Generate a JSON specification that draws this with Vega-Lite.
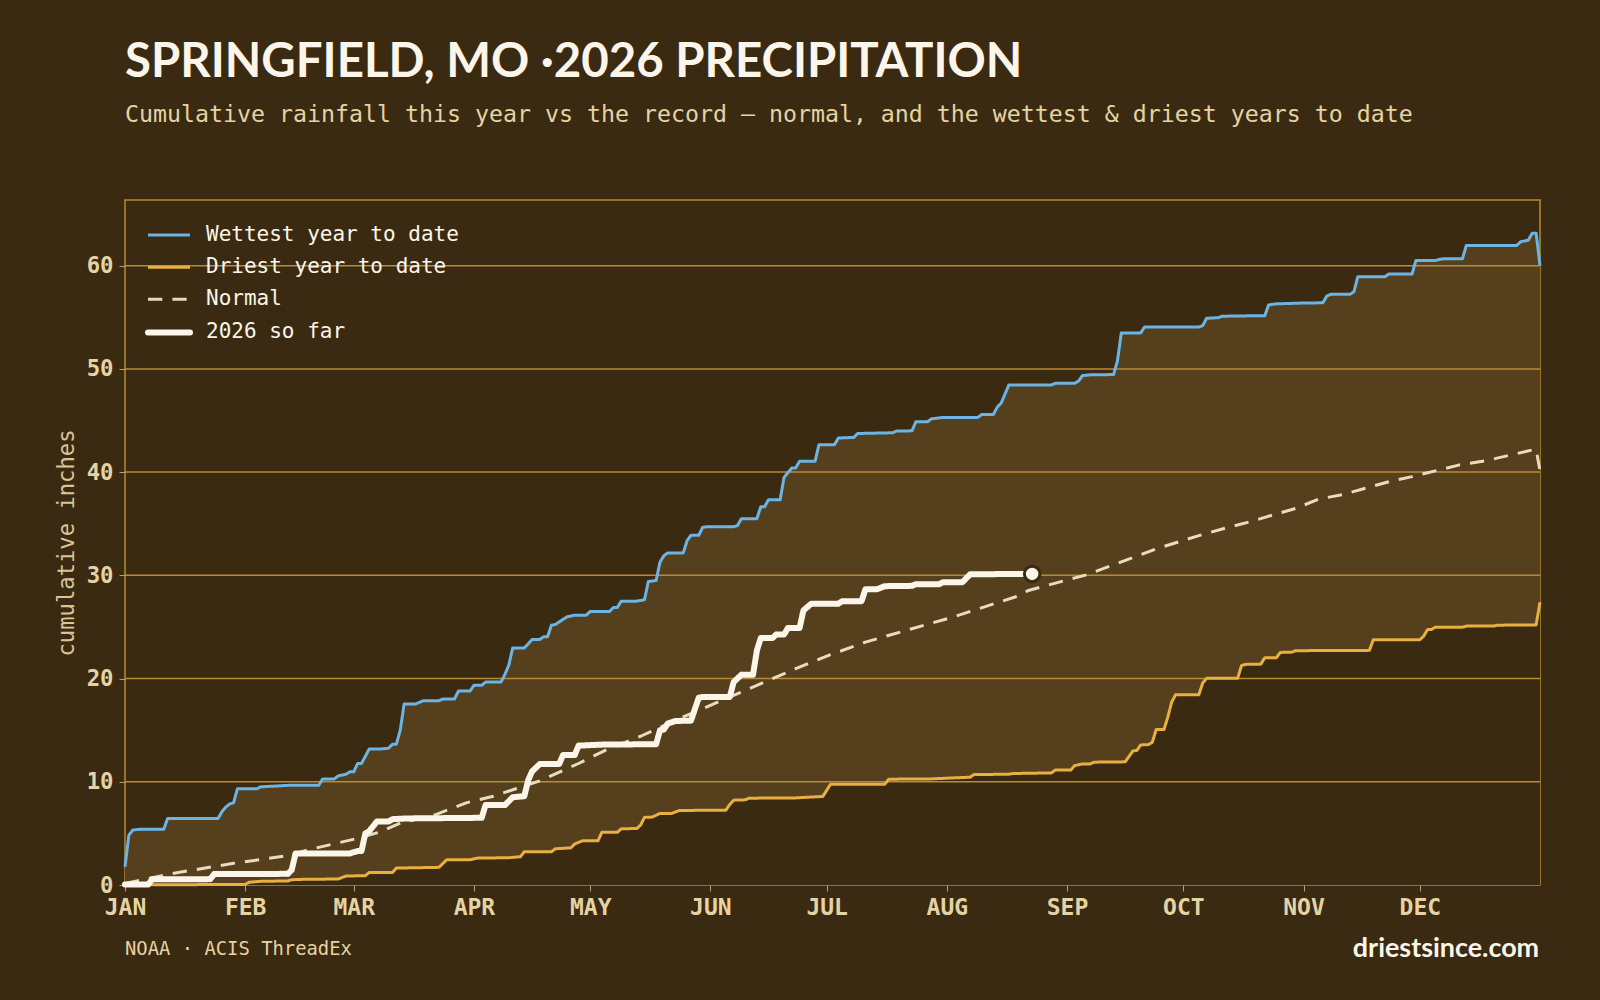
{"$schema":"https://vega.github.io/schema/vega-lite/v6.json","width":1415,"height":685,"autosize":{"type":"none"},"padding":{"left":125,"top":200,"right":60,"bottom":115},"background":"#3a2a12",
"title":{"text":"SPRINGFIELD, MO ·2026 PRECIPITATION","subtitle":"Cumulative rainfall this year vs the record — normal, and the wettest & driest years to date","anchor":"start","frame":"group","font":"Lato","fontWeight":"bold","fontSize":47.4,"color":"#fbf6e9","subtitleFont":"DejaVu Sans Mono","subtitleFontSize":23.25,"subtitleColor":"#e6d3a3","subtitlePadding":16,"offset":73},
"config":{"view":{"stroke":"#b88c36","strokeWidth":1.5},"axis":{"grid":false,"domain":false,"tickColor":"#b5a06f","tickSize":6,"labelFont":"DejaVu Sans Mono","labelFontWeight":"bold","labelColor":"#e6d3a3","titleFont":"DejaVu Sans Mono","titleFontWeight":"normal","titleColor":"#d9c495"},
"legend":{"orient":"none","legendX":33.5,"legendY":24.5,"padding":0,"symbolType":"stroke","symbolSize":1764,"symbolStrokeWidth":3,"rowPadding":10.15,"labelFont":"DejaVu Sans Mono","labelFontSize":21,"labelColor":"#fbf6e9","labelOffset":26.5,"labelLimit":400,"symbolOpacity":1}},
"datasets":{
"wet":[{"date":"2026-01-01","inches":1.77},{"date":"2026-01-02","inches":4.83},{"date":"2026-01-03","inches":5.32},{"date":"2026-01-05","inches":5.41},{"date":"2026-01-11","inches":5.41},{"date":"2026-01-12","inches":6.45},{"date":"2026-01-25","inches":6.45},{"date":"2026-01-26","inches":7.1},{"date":"2026-01-27","inches":7.55},{"date":"2026-01-28","inches":7.85},{"date":"2026-01-29","inches":7.96},{"date":"2026-01-30","inches":9.32},{"date":"2026-02-04","inches":9.32},{"date":"2026-02-05","inches":9.51},{"date":"2026-02-07","inches":9.55},{"date":"2026-02-13","inches":9.67},{"date":"2026-02-20","inches":9.67},{"date":"2026-02-21","inches":10.28},{"date":"2026-02-24","inches":10.28},{"date":"2026-02-25","inches":10.57},{"date":"2026-02-27","inches":10.73},{"date":"2026-02-28","inches":10.96},{"date":"2026-03-01","inches":10.96},{"date":"2026-03-02","inches":11.77},{"date":"2026-03-03","inches":11.77},{"date":"2026-03-05","inches":13.18},{"date":"2026-03-08","inches":13.18},{"date":"2026-03-10","inches":13.25},{"date":"2026-03-11","inches":13.64},{"date":"2026-03-12","inches":13.64},{"date":"2026-03-13","inches":14.99},{"date":"2026-03-14","inches":17.54},{"date":"2026-03-17","inches":17.54},{"date":"2026-03-19","inches":17.86},{"date":"2026-03-23","inches":17.86},{"date":"2026-03-24","inches":18.02},{"date":"2026-03-27","inches":18.02},{"date":"2026-03-28","inches":18.79},{"date":"2026-03-31","inches":18.79},{"date":"2026-04-01","inches":19.34},{"date":"2026-04-03","inches":19.34},{"date":"2026-04-04","inches":19.66},{"date":"2026-04-08","inches":19.66},{"date":"2026-04-09","inches":20.4},{"date":"2026-04-10","inches":21.3},{"date":"2026-04-11","inches":22.95},{"date":"2026-04-14","inches":22.95},{"date":"2026-04-16","inches":23.79},{"date":"2026-04-18","inches":23.79},{"date":"2026-04-19","inches":24.05},{"date":"2026-04-20","inches":24.05},{"date":"2026-04-21","inches":25.17},{"date":"2026-04-22","inches":25.24},{"date":"2026-04-25","inches":25.98},{"date":"2026-04-27","inches":26.14},{"date":"2026-04-30","inches":26.14},{"date":"2026-05-01","inches":26.5},{"date":"2026-05-06","inches":26.5},{"date":"2026-05-07","inches":26.89},{"date":"2026-05-08","inches":26.89},{"date":"2026-05-09","inches":27.5},{"date":"2026-05-13","inches":27.5},{"date":"2026-05-15","inches":27.63},{"date":"2026-05-16","inches":29.4},{"date":"2026-05-18","inches":29.5},{"date":"2026-05-19","inches":31.27},{"date":"2026-05-20","inches":31.9},{"date":"2026-05-21","inches":32.17},{"date":"2026-05-25","inches":32.17},{"date":"2026-05-26","inches":33.37},{"date":"2026-05-27","inches":33.88},{"date":"2026-05-29","inches":33.88},{"date":"2026-05-30","inches":34.65},{"date":"2026-05-31","inches":34.7},{"date":"2026-06-07","inches":34.7},{"date":"2026-06-08","inches":34.82},{"date":"2026-06-09","inches":35.49},{"date":"2026-06-13","inches":35.49},{"date":"2026-06-14","inches":36.65},{"date":"2026-06-15","inches":36.65},{"date":"2026-06-16","inches":37.33},{"date":"2026-06-19","inches":37.33},{"date":"2026-06-20","inches":39.49},{"date":"2026-06-22","inches":40.4},{"date":"2026-06-23","inches":40.4},{"date":"2026-06-24","inches":41.04},{"date":"2026-06-28","inches":41.04},{"date":"2026-06-29","inches":42.65},{"date":"2026-07-03","inches":42.65},{"date":"2026-07-04","inches":43.3},{"date":"2026-07-08","inches":43.36},{"date":"2026-07-09","inches":43.74},{"date":"2026-07-18","inches":43.81},{"date":"2026-07-19","inches":43.97},{"date":"2026-07-23","inches":44.0},{"date":"2026-07-24","inches":44.87},{"date":"2026-07-27","inches":44.87},{"date":"2026-07-28","inches":45.16},{"date":"2026-07-31","inches":45.3},{"date":"2026-08-09","inches":45.3},{"date":"2026-08-10","inches":45.58},{"date":"2026-08-13","inches":45.58},{"date":"2026-08-14","inches":46.3},{"date":"2026-08-15","inches":46.68},{"date":"2026-08-17","inches":48.45},{"date":"2026-08-28","inches":48.45},{"date":"2026-08-29","inches":48.6},{"date":"2026-09-03","inches":48.6},{"date":"2026-09-04","inches":48.84},{"date":"2026-09-05","inches":49.35},{"date":"2026-09-07","inches":49.42},{"date":"2026-09-13","inches":49.45},{"date":"2026-09-14","inches":50.77},{"date":"2026-09-15","inches":53.48},{"date":"2026-09-20","inches":53.48},{"date":"2026-09-21","inches":54.06},{"date":"2026-10-05","inches":54.06},{"date":"2026-10-06","inches":54.19},{"date":"2026-10-07","inches":54.9},{"date":"2026-10-10","inches":54.96},{"date":"2026-10-11","inches":55.1},{"date":"2026-10-16","inches":55.13},{"date":"2026-10-22","inches":55.15},{"date":"2026-10-23","inches":56.2},{"date":"2026-10-25","inches":56.3},{"date":"2026-11-01","inches":56.38},{"date":"2026-11-06","inches":56.4},{"date":"2026-11-07","inches":57.06},{"date":"2026-11-08","inches":57.22},{"date":"2026-11-13","inches":57.22},{"date":"2026-11-14","inches":57.47},{"date":"2026-11-15","inches":58.93},{"date":"2026-11-22","inches":58.93},{"date":"2026-11-23","inches":59.19},{"date":"2026-11-29","inches":59.19},{"date":"2026-11-30","inches":60.51},{"date":"2026-12-05","inches":60.51},{"date":"2026-12-07","inches":60.67},{"date":"2026-12-12","inches":60.67},{"date":"2026-12-13","inches":61.96},{"date":"2026-12-26","inches":61.96},{"date":"2026-12-27","inches":62.31},{"date":"2026-12-29","inches":62.47},{"date":"2026-12-30","inches":63.15},{"date":"2026-12-31","inches":63.15},{"date":"2027-01-01","inches":60.0}],
"dry":[{"date":"2026-01-01","inches":0},{"date":"2026-02-01","inches":0.06},{"date":"2026-02-02","inches":0.26},{"date":"2026-02-05","inches":0.36},{"date":"2026-02-12","inches":0.39},{"date":"2026-02-13","inches":0.51},{"date":"2026-02-16","inches":0.55},{"date":"2026-02-25","inches":0.58},{"date":"2026-02-27","inches":0.87},{"date":"2026-03-04","inches":0.9},{"date":"2026-03-05","inches":1.22},{"date":"2026-03-11","inches":1.22},{"date":"2026-03-12","inches":1.64},{"date":"2026-03-23","inches":1.71},{"date":"2026-03-25","inches":2.45},{"date":"2026-03-31","inches":2.45},{"date":"2026-04-02","inches":2.61},{"date":"2026-04-10","inches":2.64},{"date":"2026-04-13","inches":2.74},{"date":"2026-04-14","inches":3.22},{"date":"2026-04-21","inches":3.22},{"date":"2026-04-22","inches":3.51},{"date":"2026-04-26","inches":3.6},{"date":"2026-04-27","inches":3.97},{"date":"2026-04-29","inches":4.28},{"date":"2026-05-03","inches":4.28},{"date":"2026-05-04","inches":5.1},{"date":"2026-05-08","inches":5.1},{"date":"2026-05-09","inches":5.45},{"date":"2026-05-13","inches":5.47},{"date":"2026-05-14","inches":5.8},{"date":"2026-05-15","inches":6.55},{"date":"2026-05-17","inches":6.58},{"date":"2026-05-19","inches":6.93},{"date":"2026-05-22","inches":6.93},{"date":"2026-05-24","inches":7.22},{"date":"2026-06-05","inches":7.25},{"date":"2026-06-06","inches":7.8},{"date":"2026-06-07","inches":8.22},{"date":"2026-06-10","inches":8.25},{"date":"2026-06-11","inches":8.41},{"date":"2026-06-23","inches":8.44},{"date":"2026-06-30","inches":8.58},{"date":"2026-07-02","inches":9.77},{"date":"2026-07-16","inches":9.77},{"date":"2026-07-17","inches":10.25},{"date":"2026-07-28","inches":10.28},{"date":"2026-08-03","inches":10.38},{"date":"2026-08-07","inches":10.44},{"date":"2026-08-08","inches":10.7},{"date":"2026-08-17","inches":10.73},{"date":"2026-08-18","inches":10.8},{"date":"2026-08-28","inches":10.86},{"date":"2026-08-29","inches":11.15},{"date":"2026-09-02","inches":11.15},{"date":"2026-09-03","inches":11.57},{"date":"2026-09-05","inches":11.73},{"date":"2026-09-07","inches":11.73},{"date":"2026-09-08","inches":11.9},{"date":"2026-09-16","inches":11.93},{"date":"2026-09-18","inches":12.99},{"date":"2026-09-19","inches":13.03},{"date":"2026-09-20","inches":13.57},{"date":"2026-09-22","inches":13.6},{"date":"2026-09-23","inches":13.83},{"date":"2026-09-24","inches":15.06},{"date":"2026-09-26","inches":15.06},{"date":"2026-09-27","inches":16.28},{"date":"2026-09-28","inches":17.73},{"date":"2026-09-29","inches":18.44},{"date":"2026-10-05","inches":18.44},{"date":"2026-10-06","inches":19.57},{"date":"2026-10-07","inches":20.02},{"date":"2026-10-15","inches":20.02},{"date":"2026-10-16","inches":21.25},{"date":"2026-10-17","inches":21.37},{"date":"2026-10-21","inches":21.4},{"date":"2026-10-22","inches":22.02},{"date":"2026-10-25","inches":22.02},{"date":"2026-10-26","inches":22.53},{"date":"2026-10-29","inches":22.56},{"date":"2026-10-30","inches":22.7},{"date":"2026-11-18","inches":22.73},{"date":"2026-11-19","inches":23.76},{"date":"2026-12-01","inches":23.76},{"date":"2026-12-02","inches":24.11},{"date":"2026-12-03","inches":24.76},{"date":"2026-12-04","inches":24.76},{"date":"2026-12-05","inches":24.98},{"date":"2026-12-12","inches":24.98},{"date":"2026-12-13","inches":25.08},{"date":"2026-12-20","inches":25.08},{"date":"2026-12-21","inches":25.17},{"date":"2026-12-31","inches":25.2},{"date":"2027-01-01","inches":27.4}],
"normal":[{"date":"2026-01-01","inches":0.16},{"date":"2026-01-13","inches":1.1},{"date":"2026-01-29","inches":2.1},{"date":"2026-02-12","inches":2.84},{"date":"2026-02-17","inches":3.38},{"date":"2026-03-02","inches":4.52},{"date":"2026-03-08","inches":5.16},{"date":"2026-03-13","inches":6.0},{"date":"2026-03-22","inches":6.8},{"date":"2026-03-30","inches":7.96},{"date":"2026-04-06","inches":8.6},{"date":"2026-04-12","inches":9.35},{"date":"2026-04-18","inches":10.09},{"date":"2026-04-28","inches":11.77},{"date":"2026-05-05","inches":13.06},{"date":"2026-05-14","inches":14.41},{"date":"2026-05-25","inches":16.28},{"date":"2026-06-07","inches":18.38},{"date":"2026-06-15","inches":19.66},{"date":"2026-06-23","inches":20.96},{"date":"2026-07-02","inches":22.31},{"date":"2026-07-11","inches":23.53},{"date":"2026-07-23","inches":24.83},{"date":"2026-08-02","inches":25.89},{"date":"2026-08-19","inches":27.95},{"date":"2026-08-22","inches":28.53},{"date":"2026-09-06","inches":30.05},{"date":"2026-09-24","inches":32.56},{"date":"2026-10-05","inches":33.85},{"date":"2026-10-12","inches":34.59},{"date":"2026-10-18","inches":35.17},{"date":"2026-10-30","inches":36.49},{"date":"2026-11-05","inches":37.39},{"date":"2026-11-11","inches":37.81},{"date":"2026-11-23","inches":39.07},{"date":"2026-11-29","inches":39.56},{"date":"2026-12-11","inches":40.68},{"date":"2026-12-18","inches":41.1},{"date":"2026-12-30","inches":42.14},{"date":"2026-12-31","inches":42.2},{"date":"2027-01-01","inches":40.13}],
"y2026":[{"date":"2026-01-01","inches":0.05},{"date":"2026-01-07","inches":0.05},{"date":"2026-01-08","inches":0.55},{"date":"2026-01-23","inches":0.57},{"date":"2026-01-24","inches":1.06},{"date":"2026-02-12","inches":1.08},{"date":"2026-02-13","inches":1.45},{"date":"2026-02-14","inches":3.06},{"date":"2026-02-28","inches":3.06},{"date":"2026-03-02","inches":3.29},{"date":"2026-03-03","inches":3.29},{"date":"2026-03-04","inches":5.0},{"date":"2026-03-05","inches":5.22},{"date":"2026-03-07","inches":6.16},{"date":"2026-03-10","inches":6.16},{"date":"2026-03-11","inches":6.38},{"date":"2026-03-15","inches":6.45},{"date":"2026-04-03","inches":6.51},{"date":"2026-04-04","inches":7.74},{"date":"2026-04-09","inches":7.74},{"date":"2026-04-11","inches":8.5},{"date":"2026-04-14","inches":8.6},{"date":"2026-04-15","inches":10.15},{"date":"2026-04-16","inches":11.0},{"date":"2026-04-18","inches":11.72},{"date":"2026-04-23","inches":11.72},{"date":"2026-04-24","inches":12.6},{"date":"2026-04-27","inches":12.6},{"date":"2026-04-28","inches":13.5},{"date":"2026-05-04","inches":13.6},{"date":"2026-05-18","inches":13.64},{"date":"2026-05-19","inches":14.99},{"date":"2026-05-20","inches":15.06},{"date":"2026-05-21","inches":15.64},{"date":"2026-05-23","inches":15.89},{"date":"2026-05-27","inches":15.92},{"date":"2026-05-29","inches":18.15},{"date":"2026-05-30","inches":18.21},{"date":"2026-06-06","inches":18.21},{"date":"2026-06-07","inches":19.66},{"date":"2026-06-09","inches":20.37},{"date":"2026-06-12","inches":20.37},{"date":"2026-06-13","inches":22.73},{"date":"2026-06-14","inches":23.92},{"date":"2026-06-17","inches":23.92},{"date":"2026-06-18","inches":24.27},{"date":"2026-06-20","inches":24.27},{"date":"2026-06-21","inches":24.89},{"date":"2026-06-24","inches":24.89},{"date":"2026-06-25","inches":26.6},{"date":"2026-06-27","inches":27.24},{"date":"2026-07-04","inches":27.24},{"date":"2026-07-05","inches":27.5},{"date":"2026-07-10","inches":27.5},{"date":"2026-07-11","inches":28.66},{"date":"2026-07-14","inches":28.66},{"date":"2026-07-16","inches":28.95},{"date":"2026-07-23","inches":28.98},{"date":"2026-07-24","inches":29.14},{"date":"2026-07-30","inches":29.14},{"date":"2026-07-31","inches":29.33},{"date":"2026-08-05","inches":29.33},{"date":"2026-08-07","inches":30.1},{"date":"2026-08-23","inches":30.14}]
},
"layer":[
{"data":{"name":"wet"},"mark":{"type":"area","fill":"#553f1c"},"encoding":{"x":{"field":"date","type":"temporal","title":null,"scale":{"type":"utc","nice":false,"domain":[{"year":2026,"month":1,"date":1,"utc":true},{"year":2027,"month":1,"date":1,"utc":true}]},"axis":{"values":[{"year":2026,"month":1,"date":1,"utc":true},{"year":2026,"month":2,"date":1,"utc":true},{"year":2026,"month":3,"date":1,"utc":true},{"year":2026,"month":4,"date":1,"utc":true},{"year":2026,"month":5,"date":1,"utc":true},{"year":2026,"month":6,"date":1,"utc":true},{"year":2026,"month":7,"date":1,"utc":true},{"year":2026,"month":8,"date":1,"utc":true},{"year":2026,"month":9,"date":1,"utc":true},{"year":2026,"month":10,"date":1,"utc":true},{"year":2026,"month":11,"date":1,"utc":true},{"year":2026,"month":12,"date":1,"utc":true}],"labelExpr":"upper(utcFormat(datum.value,'%b'))","labelFontSize":23,"labelPadding":5,"labelFlush":false,"labelOverlap":false}},"y":{"field":"inches","type":"quantitative","stack":null,"title":"cumulative inches","scale":{"domain":[0,66.36],"nice":false},"axis":{"values":[0,10,20,30,40,50,60],"labelFontSize":22.3,"labelPadding":6,"titleFontSize":22.2,"titlePadding":8}}}},
{"data":{"name":"dry"},"mark":{"type":"area","fill":"#3a2a12"},"encoding":{"x":{"field":"date","type":"temporal"},"y":{"field":"inches","type":"quantitative","stack":null}}},
{"data":{"values":[{"level":10},{"level":20},{"level":30},{"level":40},{"level":50},{"level":60}]},"mark":{"type":"rule","stroke":"#b88c36","strokeWidth":1.5},"encoding":{"y":{"field":"level","type":"quantitative"}}},
{"data":{"name":"wet"},"mark":{"type":"line","strokeJoin":"round","strokeWidth":3},"encoding":{"x":{"field":"date","type":"temporal"},"y":{"field":"inches","type":"quantitative"},
"stroke":{"datum":"Wettest year to date","type":"nominal","title":null,"scale":{"domain":["Wettest year to date","Driest year to date","Normal","2026 so far"],"range":["#6cb4e4","#e8b040","#e8dcc0","#fbf6e9"]},"legend":{"encoding":{"symbols":{"strokeWidth":{"value":{"signal":"datum.value === '2026 so far' ? 6 : 3"}},"strokeCap":{"value":{"signal":"datum.value === '2026 so far' ? 'round' : 'butt'"}}}}}},
"strokeDash":{"datum":"Wettest year to date","type":"nominal","title":null,"scale":{"domain":["Wettest year to date","Driest year to date","Normal","2026 so far"],"range":[[1,0],[1,0],[14.3,10.08],[1,0]]}}}},
{"data":{"name":"dry"},"mark":{"type":"line","strokeJoin":"round","strokeWidth":3},"encoding":{"x":{"field":"date","type":"temporal"},"y":{"field":"inches","type":"quantitative"},"stroke":{"datum":"Driest year to date","type":"nominal","title":null},"strokeDash":{"datum":"Driest year to date","type":"nominal","title":null}}},
{"data":{"name":"normal"},"mark":{"type":"line","strokeJoin":"round","strokeWidth":3},"encoding":{"x":{"field":"date","type":"temporal"},"y":{"field":"inches","type":"quantitative"},"stroke":{"datum":"Normal","type":"nominal","title":null},"strokeDash":{"datum":"Normal","type":"nominal","title":null}}},
{"data":{"name":"y2026"},"mark":{"type":"line","strokeJoin":"round","strokeCap":"round","strokeWidth":6},"encoding":{"x":{"field":"date","type":"temporal"},"y":{"field":"inches","type":"quantitative"},"stroke":{"datum":"2026 so far","type":"nominal","title":null},"strokeDash":{"datum":"2026 so far","type":"nominal","title":null}}},
{"data":{"values":[{"date":"2026-08-23","inches":30.14}]},"mark":{"type":"point","shape":"circle","filled":true,"fill":"#fbf6e9","stroke":"#3a2a12","strokeWidth":3,"size":240,"opacity":1},"encoding":{"x":{"field":"date","type":"temporal"},"y":{"field":"inches","type":"quantitative"}}},
{"data":{"values":[{"label":"NOAA · ACIS ThreadEx"}]},"mark":{"type":"text","font":"DejaVu Sans Mono","fontSize":18.85,"color":"#e6d3a3","align":"left","baseline":"middle"},"encoding":{"text":{"field":"label"},"x":{"datum":{"year":2026,"month":1,"date":1,"utc":true},"type":"temporal"},"y":{"datum":-6.2,"type":"quantitative"}}},
{"data":{"values":[{"label":"driestsince.com"}]},"mark":{"type":"text","font":"Lato","fontWeight":"bold","fontSize":26.9,"color":"#fbf6e9","align":"right","baseline":"middle","dx":3},"encoding":{"text":{"field":"label"},"x":{"datum":{"year":2026,"month":12,"date":31,"utc":true},"type":"temporal"},"y":{"datum":-6.2,"type":"quantitative"}}}
]}
